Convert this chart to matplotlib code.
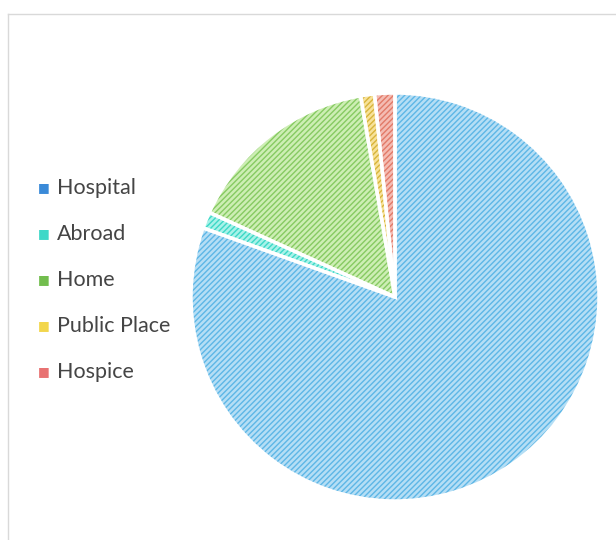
import matplotlib
matplotlib.use('Agg')
import matplotlib.pyplot as plt
from matplotlib.lines import Line2D

# place of death shares (%)
labels = ['Hospital', 'Abroad', 'Home', 'Public Place', 'Hospice']
shares = [80.5, 1.3, 15.5, 1.1, 1.6]
base_colors = ['#b5def5', '#a8f2e9', '#cdeeb4', '#f7e29a', '#f4bcb3']
stripe_colors = ['#5db6e6', '#3cd8c6', '#86ca62', '#d8b43a', '#e27a68']
legend_colors = ['#3a8ad8', '#3ed8c8', '#72bd4e', '#f2d64c', '#e87272']

plt.rcParams['hatch.linewidth'] = 1.0

fig = plt.figure(figsize=(6.16, 5.4), dpi=100)
W, H = 616.0, 540.0
cx, cy, r = 395.0, 297.0, 204.0
ax = fig.add_axes([(cx - r) / W, (H - cy - r) / H, 2 * r / W, 2 * r / H])

# base fill
wedges, _ = ax.pie(shares, colors=base_colors, startangle=90, counterclock=False,
                   wedgeprops=dict(linewidth=0))
# stripes
hw, _ = ax.pie(shares, colors=['none'] * 5, startangle=90, counterclock=False,
               wedgeprops=dict(linewidth=0))
for w, c in zip(hw, stripe_colors):
    w.set_fill(False)
    w.set_hatch('//////')
    w.set_edgecolor(c)
    w.set_linewidth(0)
# white separators
sw, _ = ax.pie(shares, startangle=90, counterclock=False,
               wedgeprops=dict(fill=False, edgecolor='white', linewidth=2.5))
ax.set_xlim(-1, 1)
ax.set_ylim(-1, 1)
ax.set_aspect('equal')
ax.axis('off')

# legend
for i, (lab, c) in enumerate(zip(labels, legend_colors)):
    y = 1 - (188 + 46 * i) / H
    fig.text(38 / W, y, '\u25a0', color=c, fontsize=9, va='center', ha='left')
    fig.text(57 / W, y, lab, color='#454545', fontsize=15.5, va='center', ha='left',
             family=['Lato', 'DejaVu Sans'])

# outer chart-area border
fig.add_artist(Line2D([8 / W, 1], [1 - 14 / H, 1 - 14 / H], color='#d9d9d9', lw=1))
fig.add_artist(Line2D([8 / W, 8 / W], [0, 1 - 14 / H], color='#d9d9d9', lw=1))

fig.savefig('out.png', dpi=100)
